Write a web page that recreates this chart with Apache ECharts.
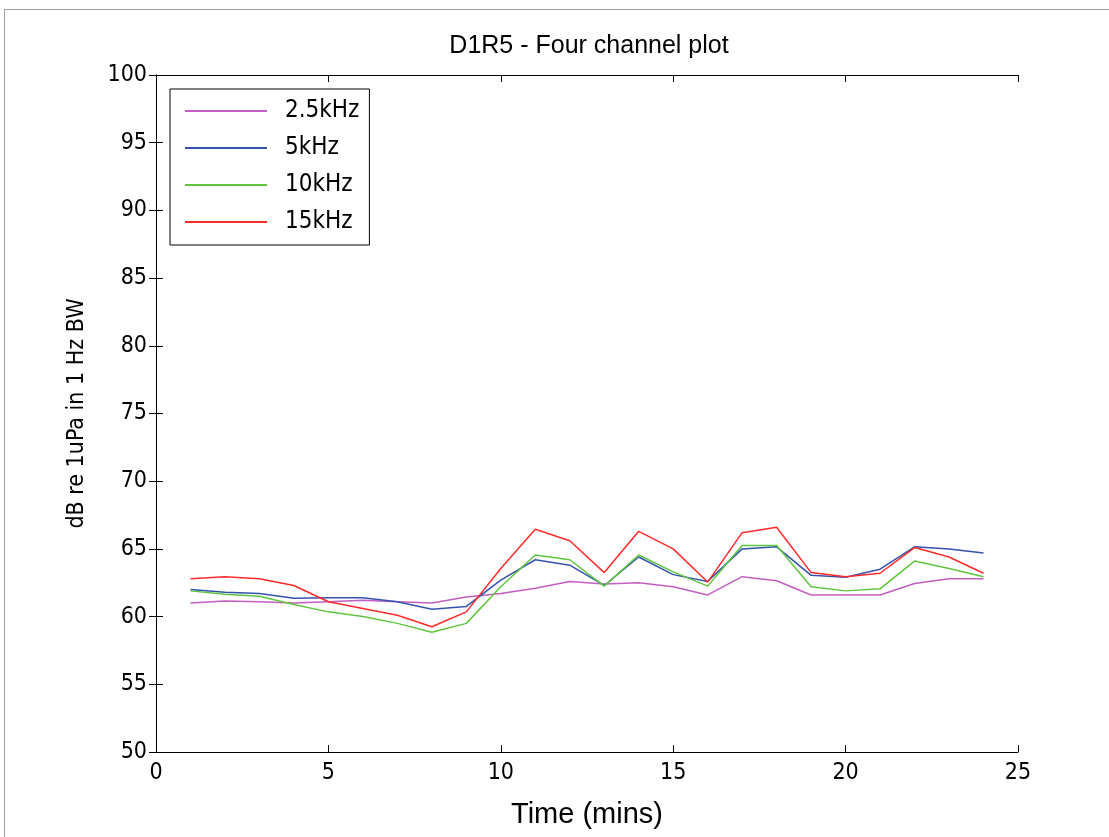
<!DOCTYPE html>
<html lang="en">
<head>
    <meta charset="UTF-8">
    <title>D1R5 - Four channel plot</title>
    <script src="https://cdn.jsdelivr.net/npm/echarts@6/dist/echarts.min.js"></script>
    <style>
        html, body { margin: 0; padding: 0; background: #fff; }
        #frame { position: absolute; left: 4px; top: 9px; width: 1120px; height: 850px; border: 1px solid #a0a0a0; box-sizing: border-box; }
        #chart { position: absolute; left: 0; top: 0; width: 1109px; height: 837px; }
    </style>
</head>
<body>
<div id="frame"></div>
<div id="chart"></div>
<script type="text/javascript">
    // minutes
    var times = [1, 2, 3, 4, 5, 6, 7, 8, 9, 10, 11, 12, 13, 14, 15, 16, 17, 18, 19, 20, 21, 22, 23, 24];
    // dB re 1uPa in 1 Hz BW
    var khz2_5 = [61.0, 61.15, 61.1, 61.0, 61.1, 61.2, 61.1, 61.0, 61.45, 61.7, 62.1, 62.6, 62.4, 62.5, 62.2, 61.6, 62.95, 62.65, 61.6, 61.6, 61.6, 62.45, 62.8, 62.8];
    var khz5 = [62.0, 61.8, 61.7, 61.35, 61.4, 61.4, 61.1, 60.55, 60.75, 62.7, 64.2, 63.8, 62.3, 64.4, 63.1, 62.6, 65.0, 65.15, 63.05, 62.9, 63.5, 65.15, 65.0, 64.7];
    var khz10 = [61.9, 61.65, 61.5, 60.9, 60.35, 60.0, 59.5, 58.85, 59.5, 62.2, 64.55, 64.2, 62.25, 64.55, 63.3, 62.25, 65.25, 65.25, 62.2, 61.9, 62.05, 64.1, 63.55, 62.95];
    var khz15 = [62.8, 62.95, 62.8, 62.3, 61.1, 60.6, 60.1, 59.25, 60.35, 63.55, 66.45, 65.6, 63.25, 66.3, 65.0, 62.55, 66.2, 66.6, 63.25, 62.95, 63.2, 65.1, 64.4, 63.2];

    function pairs(vals) {
        var out = [];
        for (var i = 0; i < times.length; i++) {
            out.push([times[i], vals[i]]);
        }
        return out;
    }

    var font = 'Liberation Sans, Arial, sans-serif';
    var narrow = '"DejaVu Sans Condensed", "Liberation Sans Narrow", sans-serif';
    var axisLine = { show: true, lineStyle: { color: '#000', width: 1 } };
    var axisTick = { show: true, inside: true, length: 7, lineStyle: { color: '#000' } };

    var myChart = echarts.init(document.getElementById('chart'));
    var option = {
        backgroundColor: 'transparent',
        animation: false,
        title: {
            text: 'D1R5 - Four channel plot',
            left: 584,
            top: 29,
            textAlign: 'center',
            textStyle: { fontFamily: font, fontSize: 25, fontWeight: 'normal', color: '#000' }
        },
        legend: {
            orient: 'vertical',
            left: 170,
            top: 89,
            padding: [10, 10, 11, 15],
            icon: 'rect',
            itemWidth: 82,
            itemHeight: 2,
            itemGap: 13,
            borderColor: '#000',
            borderWidth: 1,
            backgroundColor: '#fff',
            textStyle: { fontFamily: narrow, fontSize: 24, color: '#000', padding: [0, 0, 0, 13] },
            data: ['2.5kHz', '5kHz', '10kHz', '15kHz']
        },
        grid: { left: 156, top: 75, right: 91, bottom: 85, containLabel: false },
        xAxis: [
            {
                type: 'value',
                min: 0, max: 25, interval: 5,
                name: 'Time (mins)',
                nameLocation: 'middle',
                nameGap: 48,
                nameTextStyle: { fontFamily: font, fontSize: 29, color: '#000' },
                axisLine: axisLine,
                axisTick: axisTick,
                axisLabel: { fontFamily: narrow, fontSize: 23, color: '#000', margin: 10 },
                splitLine: { show: false }
            },
            {
                type: 'value', position: 'top',
                min: 0, max: 25, interval: 5,
                axisLine: axisLine, axisTick: axisTick,
                axisLabel: { show: false }, splitLine: { show: false }
            }
        ],
        yAxis: [
            {
                type: 'value',
                min: 50, max: 100, interval: 5,
                name: 'dB re 1uPa in 1 Hz BW',
                nameLocation: 'middle',
                nameGap: 67,
                nameTextStyle: { fontFamily: narrow, fontSize: 23, color: '#000' },
                axisLine: axisLine,
                axisTick: axisTick,
                axisLabel: { fontFamily: narrow, fontSize: 23, color: '#000', margin: 9 },
                splitLine: { show: false }
            },
            {
                type: 'value', position: 'right',
                min: 50, max: 100, interval: 5,
                axisLine: axisLine, axisTick: axisTick,
                axisLabel: { show: false }, splitLine: { show: false }
            }
        ],
        series: [
            { name: '2.5kHz', type: 'line', symbol: 'none', data: pairs(khz2_5), lineStyle: { width: 1.5, color: '#c25ec2' }, itemStyle: { color: '#c25ec2' } },
            { name: '5kHz', type: 'line', symbol: 'none', data: pairs(khz5), lineStyle: { width: 1.5, color: '#3553ae' }, itemStyle: { color: '#3553ae' } },
            { name: '10kHz', type: 'line', symbol: 'none', data: pairs(khz10), lineStyle: { width: 1.5, color: '#5ec63e' }, itemStyle: { color: '#5ec63e' } },
            { name: '15kHz', type: 'line', symbol: 'none', data: pairs(khz15), lineStyle: { width: 1.5, color: '#ff2a2a' }, itemStyle: { color: '#ff2a2a' } }
        ]
    };
    myChart.setOption(option);
</script>
</body>
</html>
